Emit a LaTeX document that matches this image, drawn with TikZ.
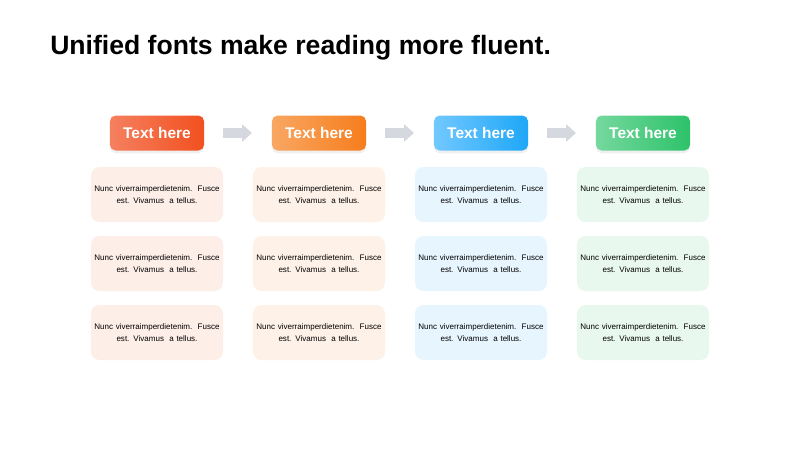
\documentclass[tikz,border=0pt]{standalone}
\usepackage{fontspec}
\setmainfont{Liberation Sans}
\usetikzlibrary{arrows.meta,shadows}
\definecolor{redA}{HTML}{F5805F}
\definecolor{redB}{HTML}{F2501F}
\definecolor{orgA}{HTML}{F8A762}
\definecolor{orgB}{HTML}{F77D1D}
\definecolor{bluA}{HTML}{72C8FF}
\definecolor{bluB}{HTML}{1EA7F7}
\definecolor{grnA}{HTML}{75D89E}
\definecolor{grnB}{HTML}{2DC26A}
\definecolor{redL}{HTML}{FDEEE8}
\definecolor{orgL}{HTML}{FEF1E7}
\definecolor{bluL}{HTML}{E7F5FE}
\definecolor{grnL}{HTML}{E9F8EE}
\definecolor{arrowgray}{HTML}{D5D8DE}
\newcommand{\bodytext}{Nunc viverraimperdietenim.\ \ Fusce\\est. Vivamus\ \ a tellus.}
\begin{document}
\begin{tikzpicture}[
x=0.025cm, y=-0.025cm,
header/.style={
rounded corners=4pt,
align=center,
minimum width=2.35cm,
minimum height=0.875cm,
text=white,
font=\bfseries\fontsize{11}{12}\selectfont,
drop shadow={opacity=0.12, shadow xshift=0pt, shadow yshift=-2pt}
},
card/.style={
rounded corners=6pt,
align=center,
inner xsep=0pt,
text width=3.3cm,
minimum height=1.375cm,
font=\fontsize{5.7}{9}\selectfont
},
link/.style={
draw=arrowgray,
line width=7pt,
-{Triangle[length=7pt,width=12pt]},
shorten <=13.5pt,
shorten >=14pt
}
]
\useasboundingbox (0,0) rectangle (800,450);

\node[anchor=west, inner sep=0pt, font=\bfseries\fontsize{18.9}{22}\selectfont] (title) at (50,48) {Unified fonts make reading more fluent.};

\node[header, left color=redA, right color=redB] (H1) at (157,133) {Text here};
\node[header, left color=orgA, right color=orgB] (H2) at (319,133) {Text here};
\node[header, left color=bluA, right color=bluB] (H3) at (481,133) {Text here};
\node[header, left color=grnA, right color=grnB] (H4) at (643,133) {Text here};

\draw[link] (H1) -- (H2);
\draw[link] (H2) -- (H3);
\draw[link] (H3) -- (H4);

\node[card, fill=redL] (R1) at (157,194.5) {\bodytext};
\node[card, fill=redL] (R2) at (157,263.5) {\bodytext};
\node[card, fill=redL] (R3) at (157,332.5) {\bodytext};

\node[card, fill=orgL] (O1) at (319,194.5) {\bodytext};
\node[card, fill=orgL] (O2) at (319,263.5) {\bodytext};
\node[card, fill=orgL] (O3) at (319,332.5) {\bodytext};

\node[card, fill=bluL] (B1) at (481,194.5) {\bodytext};
\node[card, fill=bluL] (B2) at (481,263.5) {\bodytext};
\node[card, fill=bluL] (B3) at (481,332.5) {\bodytext};

\node[card, fill=grnL] (G1) at (643,194.5) {\bodytext};
\node[card, fill=grnL] (G2) at (643,263.5) {\bodytext};
\node[card, fill=grnL] (G3) at (643,332.5) {\bodytext};

\end{tikzpicture}
\end{document}
